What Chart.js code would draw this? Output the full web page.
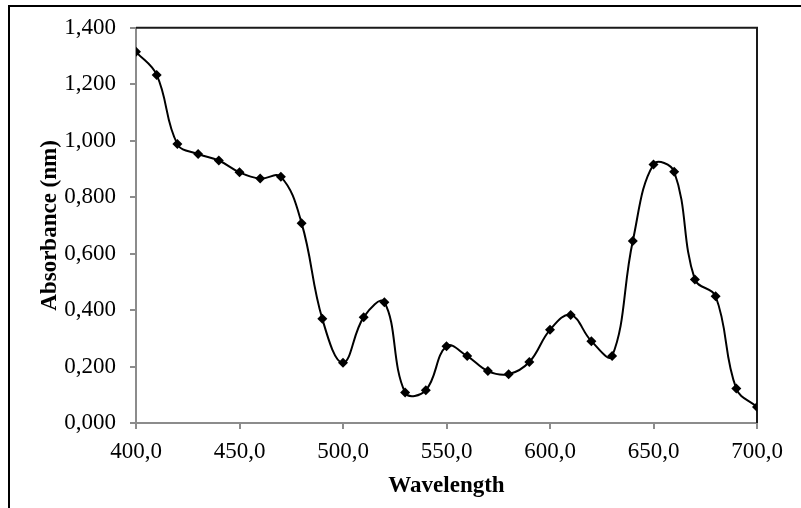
<!DOCTYPE html>
<html>
<head>
<meta charset="utf-8">
<script src="https://cdn.jsdelivr.net/npm/chart.js@4/dist/chart.umd.min.js"></script>
<style>
    html, body { margin: 0; padding: 0; background: #fff; }
    #wrap { width: 801px; height: 508px; position: relative; }
</style>
</head>
<body>
<div id="wrap"><canvas id="chart"></canvas></div>
<script>
// wavelength (nm) and absorbance
const wavelengths = [400, 410, 420, 430, 440, 450, 460, 470, 480, 490, 500, 510, 520, 530, 540, 550,
                     560, 570, 580, 590, 600, 610, 620, 630, 640, 650, 660, 670, 680, 690, 700];
const absorbance = [1.315, 1.233, 0.988, 0.953, 0.930, 0.888, 0.866, 0.872, 0.708, 0.369, 0.213,
                    0.375, 0.428, 0.108, 0.116, 0.272, 0.237, 0.184, 0.173, 0.216, 0.330, 0.383,
                    0.290, 0.237, 0.645, 0.916, 0.890, 0.508, 0.449, 0.122, 0.057];
const xTicks = [400, 450, 500, 550, 600, 650, 700];
const yTicks = [0, 0.2, 0.4, 0.6, 0.8, 1.0, 1.2, 1.4];

const points = wavelengths.map((w, i) => ({ x: w, y: absorbance[i] }));
const axisGray = '#8c8c8c';
const serif = "'Liberation Serif', 'Times New Roman', serif";

// outer frame + black top/right edges of the plot area
const framePlugin = {
    id: 'frame',
    beforeDraw(chart) {
        const ctx = chart.ctx;
        ctx.save();
        ctx.fillStyle = '#fff';
        ctx.fillRect(0, 0, chart.width, chart.height);
        ctx.strokeStyle = '#000';
        ctx.lineWidth = 2;
        ctx.strokeRect(9, 6, 900, 600);
        ctx.restore();
    },
    beforeDatasetsDraw(chart) {
        const a = chart.chartArea;
        const ctx = chart.ctx;
        ctx.save();
        ctx.strokeStyle = '#1a1a1a';
        ctx.lineWidth = 2;
        ctx.beginPath();
        ctx.moveTo(a.left, a.top);
        ctx.lineTo(a.right, a.top);
        ctx.lineTo(a.right, a.bottom);
        ctx.stroke();
        ctx.restore();
    }
};

new Chart(document.getElementById('chart'), {
    type: 'line',
    data: {
        datasets: [{
            data: points,
            borderColor: '#000',
            backgroundColor: '#000',
            borderWidth: 2,
            tension: 0.4,
            pointStyle: 'rectRot',
            pointRadius: 5,
            pointBorderWidth: 0,
            pointBackgroundColor: '#000',
            fill: false,
        }]
    },
    options: {
        responsive: true,
        maintainAspectRatio: false,
        animation: false,
        layout: {
            padding: { left: 36, right: 44, top: 26, bottom: 8 }
        },
        plugins: {
            legend: { display: false },
            tooltip: { enabled: false }
        },
        scales: {
            x: {
                type: 'linear',
                min: 400,
                max: 700,
                afterBuildTicks(scale) {
                    scale.ticks = xTicks.map(v => ({ value: v }));
                },
                afterFit(scale) {
                    scale.height = 77;
                },
                grid: {
                    display: true,
                    drawOnChartArea: false,
                    drawTicks: true,
                    tickLength: 6,
                    color: axisGray,
                    lineWidth: 2,
                },
                border: { display: true, color: axisGray, width: 2 },
                ticks: {
                    color: '#000',
                    padding: 9,
                    maxRotation: 0,
                    font: { family: serif, size: 23 },
                    callback: v => v.toFixed(1).replace('.', ',')
                },
                title: {
                    display: true,
                    text: 'Wavelength',
                    color: '#000',
                    padding: { top: 0, bottom: 0 },
                    font: { family: serif, size: 23, weight: 'bold' }
                }
            },
            y: {
                min: 0,
                max: 1.4,
                afterBuildTicks(scale) {
                    scale.ticks = yTicks.map(v => ({ value: v }));
                },
                afterFit(scale) {
                    scale.width = 100;
                },
                grid: {
                    display: true,
                    drawOnChartArea: false,
                    drawTicks: true,
                    tickLength: 6,
                    color: axisGray,
                    lineWidth: 2,
                },
                border: { display: true, color: axisGray, width: 2 },
                ticks: {
                    color: '#000',
                    padding: 14,
                    font: { family: serif, size: 23 },
                    callback: v => v.toFixed(3).replace('.', ',')
                },
                title: {
                    display: true,
                    text: 'Absorbance (nm)',
                    color: '#000',
                    padding: { top: 0, bottom: 0 },
                    font: { family: serif, size: 23, weight: 'bold' }
                }
            }
        }
    },
    plugins: [framePlugin]
});
</script>
</body>
</html>
